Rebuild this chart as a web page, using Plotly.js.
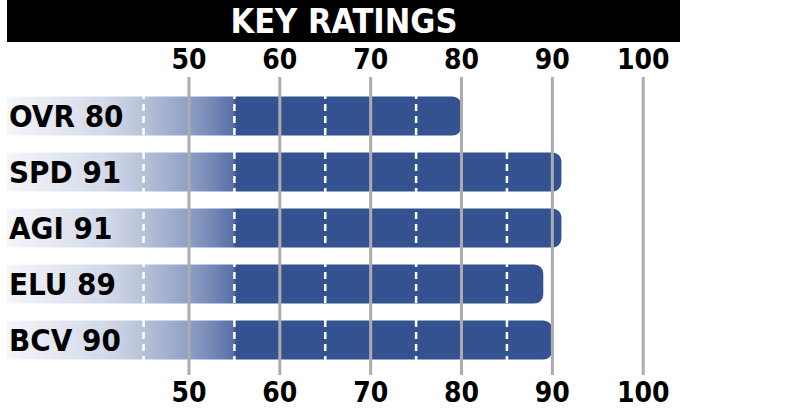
<!DOCTYPE html>
<html>
<head>
<meta charset="utf-8">
<script src="https://cdn.plot.ly/plotly-3.0.1.min.js"></script>
<style>
html,body{margin:0;padding:0;background:#fff;}
#chart{width:785px;height:415px;}
</style>
</head>
<body>
<div id="chart"></div>
<script>
// ---- data ----
var stats = ["OVR", "SPD", "AGI", "ELU", "BCV"];
var ratings = [80, 91, 91, 89, 90];
var tickValues = [50, 60, 70, 80, 90, 100];
var dashValues = [45, 55, 65, 75, 85];
var chartTitle = "KEY RATINGS";

var labels = stats.map(function (s, i) { return s + " " + ratings[i]; });

var FONT = "DejaVu Sans Condensed, DejaVu Sans, sans-serif";
var BAR_DARK = "#33528f";
var GRID = "#acacb0";
var xRange = [29.97, 104.05];

var shapes = [];
// title bar
shapes.push({type: "rect", xref: "paper", yref: "paper", x0: 0, x1: 1,
  y0: 1 + 35 / 298, y1: 1 + 77 / 298, fillcolor: "#000", line: {width: 0}, layer: "below"});
// gray gridlines above bars
tickValues.forEach(function (v) {
  shapes.push({type: "line", xref: "x", yref: "paper", x0: v, x1: v, y0: 0, y1: 1,
    line: {color: GRID, width: 3}, layer: "above"});
});
// white dashed lines
dashValues.forEach(function (v) {
  shapes.push({type: "line", xref: "x", yref: "paper", x0: v, x1: v, y0: 0, y1: 1,
    line: {color: "#ffffff", width: 2.5, dash: "7px,5px"}, layer: "above"});
});

var traces = [
  {type: "bar", orientation: "h", y: labels, x: ratings,
   marker: {color: BAR_DARK, cornerradius: 9, line: {width: 0}},
   hoverinfo: "skip"},
  {type: "scatter", mode: "markers", x: [ratings[0]], y: [labels[0]], xaxis: "x2",
   marker: {opacity: 0}, hoverinfo: "skip", showlegend: false}
];

var axisFont = {family: FONT, size: 28, color: "#000", weight: "bold"};

var layout = {
  width: 785, height: 415,
  margin: {l: 7, r: 105, t: 77, b: 40, pad: 0},
  paper_bgcolor: "#fff", plot_bgcolor: "#fff",
  showlegend: false,
  bargap: 0.3,
  title: {text: chartTitle, font: {family: FONT, size: 34, color: "#fff", weight: "bold"},
          x: 344 / 785, xanchor: "center", xref: "container",
          y: 1 - 21 / 415, yanchor: "middle", yref: "container"},
  xaxis: {range: xRange, tickvals: tickValues, ticktext: tickValues.map(String),
          showgrid: false, zeroline: false, showline: false, ticks: "",
          tickfont: axisFont, ticklabelstandoff: -2, fixedrange: true},
  xaxis2: {range: xRange, overlaying: "x", side: "top", anchor: "y",
           tickvals: tickValues, ticktext: tickValues.map(String),
           showgrid: false, zeroline: false, showline: false, ticks: "",
           tickfont: axisFont, ticklabelstandoff: 1, fixedrange: true},
  yaxis: {type: "category", categoryorder: "array", categoryarray: labels,
          range: [4.625, -0.696], showgrid: false, zeroline: false, showline: false,
          ticks: "", ticklabelposition: "inside", layer: "above traces",
          ticklabelstandoff: -1,
          tickfont: {family: FONT, size: 31, color: "#000", weight: "bold"}, fixedrange: true},
  shapes: shapes
};

var gd = document.getElementById("chart");
Plotly.newPlot(gd, traces, layout, {staticPlot: true, displayModeBar: false}).then(function () {
  var xa = gd._fullLayout.xaxis;
  var svgNS = "http://www.w3.org/2000/svg";
  var defs = gd.querySelector(".main-svg defs");
  var grad = document.createElementNS(svgNS, "linearGradient");
  grad.setAttribute("id", "barGrad");
  grad.setAttribute("gradientUnits", "userSpaceOnUse");
  grad.setAttribute("x1", xa.l2p(30));
  grad.setAttribute("x2", xa.l2p(55.2));
  grad.setAttribute("y1", 0);
  grad.setAttribute("y2", 0);
  var stops = [[0, "#f5f6fa"], [0.45, "#d0d7e7"], [0.6, "#b6c1d8"], [0.8, "#8e9fc4"], [0.985, "#5a71a7"], [1, BAR_DARK]];
  stops.forEach(function (s) {
    var st = document.createElementNS(svgNS, "stop");
    st.setAttribute("offset", s[0]);
    st.setAttribute("stop-color", s[1]);
    grad.appendChild(st);
  });
  defs.appendChild(grad);
  gd.querySelectorAll(".barlayer .point path").forEach(function (p) {
    p.style.fill = "url(#barGrad)";
  });
});
</script>
</body>
</html>
